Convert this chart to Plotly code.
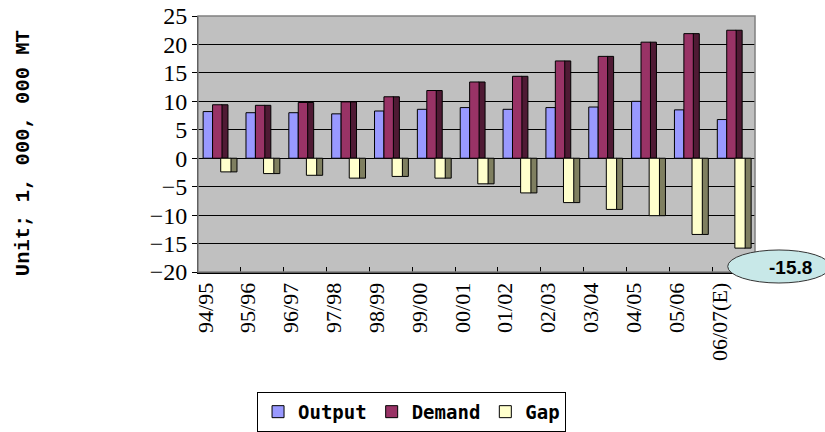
import plotly.graph_objects as go

categories = ["94/95", "95/96", "96/97", "97/98", "98/99", "99/00", "00/01",
              "01/02", "02/03", "03/04", "04/05", "05/06", "06/07(E)"]
output = [8.2, 8.0, 8.0, 7.8, 8.3, 8.6, 8.9, 8.6, 8.9, 9.0, 10.0, 8.5, 6.8]
demand = [9.4, 9.3, 9.8, 9.9, 10.8, 11.9, 13.4, 14.4, 17.1, 17.9, 20.4, 21.9, 22.5]
gap = [-2.4, -2.7, -3.0, -3.5, -3.2, -3.5, -4.5, -6.1, -7.8, -9.0, -10.1, -13.4, -15.8]
y_ticks = [-20, -15, -10, -5, 0, 5, 10, 15, 20, 25]

SERIF = "Liberation Serif"

fig = go.Figure()
line = dict(color="black", width=1)

# Output (front face)
fig.add_trace(go.Bar(x=categories, y=output, name="Output", offset=-0.38, width=0.22,
                     marker=dict(color="#9999FF", line=line)))
# Demand side face + front face
fig.add_trace(go.Bar(x=categories, y=demand, showlegend=False, offset=0.05, width=0.15,
                     marker=dict(color="#4F1A34", line=line), hoverinfo="skip"))
fig.add_trace(go.Bar(x=categories, y=demand, name="Demand", offset=-0.16, width=0.22,
                     marker=dict(color="#993366", line=line)))
# Gap side face + front face
fig.add_trace(go.Bar(x=categories, y=gap, showlegend=False, offset=0.26, width=0.15,
                     marker=dict(color="#7F7F60", line=line), hoverinfo="skip"))
fig.add_trace(go.Bar(x=categories, y=gap, name="Gap", offset=0.03, width=0.24,
                     marker=dict(color="#FFFFCC", line=line)))

fig.update_layout(
    width=825, height=432,
    margin=dict(l=198, r=70, t=16, b=160, autoexpand=False),
    paper_bgcolor="white",
    plot_bgcolor="#C0C0C0",
    barmode="overlay",
    font=dict(family=SERIF, color="black"),
    legend=dict(orientation="h", x=0.106, y=-0.468, xanchor="left", yanchor="top",
                xref="paper", yref="paper",
                bordercolor="black", borderwidth=1, bgcolor="white",
                font=dict(family="DejaVu Sans Mono", size=19, color="black", weight="bold"),
                itemwidth=30, traceorder="normal", tracegroupgap=0),
)
fig.update_yaxes(range=[-20, 25], tickvals=y_ticks, showgrid=True, gridcolor="black",
                 gridwidth=1, zeroline=True, zerolinecolor="black", zerolinewidth=1,
                 showline=True, linecolor="black", linewidth=1, ticks="outside",
                 ticklen=5, tickcolor="black", automargin=False,
                 tickfont=dict(family=SERIF, size=24, color="black"))
fig.update_xaxes(showline=True, linecolor="black", linewidth=2, mirror=False,
                 ticks="inside", ticklen=5, tickcolor="black", tickson="boundaries",
                 tickangle=-90, showgrid=False, automargin=False, ticklabelshift=-14,
                 tickfont=dict(family=SERIF, size=22, color="black"))

# back wall border
fig.add_shape(type="rect", xref="paper", yref="paper", x0=0, x1=1, y0=0, y1=1,
              line=dict(color="#808080", width=1.5), layer="above")

# y-axis title
fig.add_annotation(text="<b>Unit; 1, 000, 000 MT</b>", xref="paper", yref="paper",
                   x=-0.313, y=0.463, xanchor="center", yanchor="middle",
                   textangle=-90, showarrow=False,
                   font=dict(family="Liberation Mono", size=20.5, color="black"))

# callout ellipse for last gap value
fig.add_shape(type="circle", xref="paper", yref="paper",
              x0=0.951, x1=1.135, y0=-0.043, y1=0.086,
              line=dict(color="#333333", width=1), fillcolor="#C8E8E8", layer="above")
fig.add_annotation(text="<b>%.1f</b>" % gap[-1], xref="paper", yref="paper",
                   x=1.063, y=0.016, xanchor="center", yanchor="middle", showarrow=False,
                   font=dict(family="Liberation Sans", size=19, color="black"))

fig.write_html("out.html", config={"displayModeBar": False},
               post_script="document.body.style.margin='0';document.body.style.padding='0';")
